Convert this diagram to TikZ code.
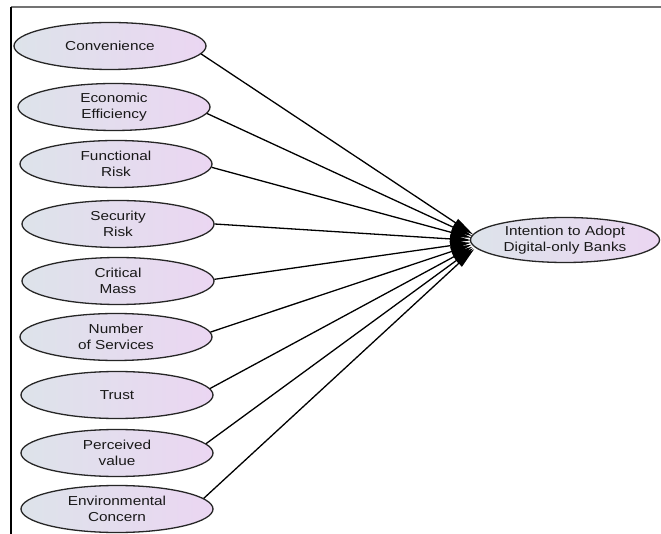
\documentclass[tikz,border=0pt]{standalone}
\usepackage{fontspec}
\setmainfont{Liberation Sans}[FakeStretch=1.18]
\usetikzlibrary{shapes.geometric,arrows.meta}
\definecolor{lcol}{HTML}{DDE3EA}
\definecolor{rcol}{HTML}{EBD6F2}
\tikzset{
  src/.style={ellipse, draw=black!85, line width=1.3pt, minimum width=192pt, minimum height=47pt,
    inner sep=0pt, left color=lcol, right color=rcol, align=center, text=black!90,
    font=\fontsize{13pt}{15.5pt}\selectfont},
  tgt/.style={src, minimum width=189pt, minimum height=45pt},
  link/.style={line width=1.3pt, black, shorten >=12pt,
    -{Triangle[length=21pt,width=9pt]}}
}
\begin{document}
\begin{tikzpicture}[x=1pt,y=-1pt]
\useasboundingbox (0,0) rectangle (661,534);
\fill[white] (0,0) rectangle (661,534);
\draw[line width=2pt, black!55] (11,7) -- (661,7);
\draw[line width=1.3pt, black] (11,7) -- (11,534);
\node[src] (c1) at (110,46) {Convenience};
\node[src] (c2) at (114,107) {Economic\\Efficiency};
\node[src] (c3) at (116,164) {Functional\\Risk};
\node[src] (c4) at (118,224) {Security\\Risk};
\node[src] (c5) at (118,281) {Critical\\Mass};
\node[src] (c6) at (116,337) {Number\\of Services};
\node[src] (c7) at (117,395) {Trust};
\node[src] (c8) at (117,453) {Perceived\\value};
\node[src] (c9) at (117,509) {Environmental\\Concern};
\node[tgt] (t) at (565,240) {Intention to Adopt\\Digital-only Banks};
\coordinate (hub) at (483,241);
\foreach \i/\a in {1/-5.6,2/-4.2,3/-2.5,4/-0.6,5/1.4,6/3.1,7/4.8,8/6.1,9/7.2}
  {\draw[link] (c\i.\a) -- (hub);}
\end{tikzpicture}
\end{document}
